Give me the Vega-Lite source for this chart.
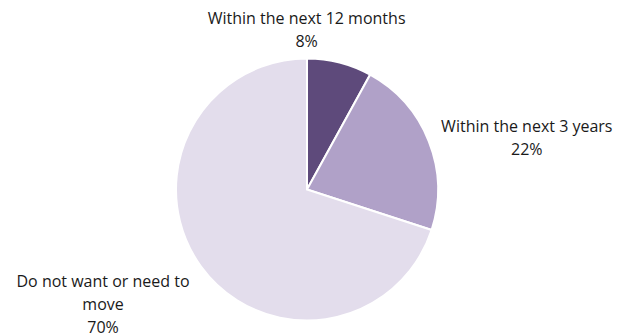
{
  "$schema": "https://vega.github.io/schema/vega-lite/v6.json",
  "autosize": {"type": "none"},
  "width": 614,
  "height": 291,
  "padding": {"top": 44, "bottom": 0, "left": 0, "right": 3},
  "background": "white",
  "config": {"view": {"stroke": null}, "text": {"font": "Open Sans"}},
  "data": {
    "values": [
      {"idx": 1, "category": "Within the next 12 months", "value": 8, "label": "Within the next 12 months\n8%"},
      {"idx": 2, "category": "Within the next 3 years", "value": 22, "label": "Within the next 3 years\n22%"},
      {"idx": 3, "category": "Do not want or need to move", "value": 70, "label": "Do not want or need to\nmove\n70%"}
    ]
  },
  "encoding": {
    "theta": {"field": "value", "type": "quantitative", "stack": true},
    "order": {"field": "idx", "type": "ordinal"}
  },
  "layer": [
    {
      "mark": {"type": "arc", "radius": 131, "stroke": "white", "strokeWidth": 2},
      "encoding": {
        "color": {
          "field": "category",
          "type": "nominal",
          "scale": {
            "domain": ["Within the next 12 months", "Within the next 3 years", "Do not want or need to move"],
            "range": ["#5e4a7b", "#b0a1c8", "#e3ddec"]
          },
          "legend": null
        }
      }
    },
    {
      "mark": {"type": "text", "radius": 131, "dx": -33, "dy": -44, "fontSize": 16, "lineBreak": "\n", "lineHeight": 23, "color": "#1a1a1a", "align": "center", "baseline": "middle"},
      "encoding": {"text": {"condition": {"test": "datum.idx == 1", "field": "label"}, "value": ""}}
    },
    {
      "mark": {"type": "text", "radius": 131, "dx": 98, "dy": -14, "fontSize": 16, "lineBreak": "\n", "lineHeight": 23, "color": "#1a1a1a", "align": "center", "baseline": "middle"},
      "encoding": {"text": {"condition": {"test": "datum.idx == 2", "field": "label"}, "value": ""}}
    },
    {
      "mark": {"type": "text", "radius": 131, "dx": -98, "dy": 16, "fontSize": 16, "lineBreak": "\n", "lineHeight": 23, "color": "#1a1a1a", "align": "center", "baseline": "middle"},
      "encoding": {"text": {"condition": {"test": "datum.idx == 3", "field": "label"}, "value": ""}}
    }
  ]
}
